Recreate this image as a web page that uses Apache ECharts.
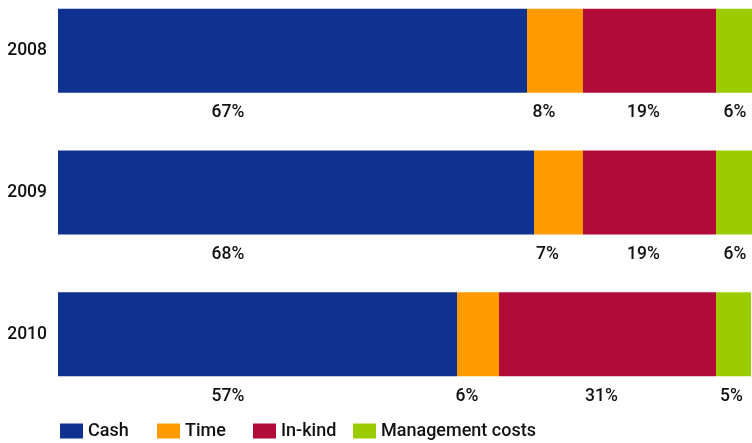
<!DOCTYPE html>
<html>
<head>
<meta charset="utf-8">
<script src="https://cdn.jsdelivr.net/npm/echarts@6/dist/echarts.min.js"></script>
<style>
  html, body { margin: 0; padding: 0; background: #ffffff; }
  #chart { width: 752px; height: 443px; }
</style>
</head>
<body>
<div id="chart"></div>
<script>
// Share of contributions by type, per year (percent)
const years = ['2008', '2009', '2010'];
const cash = [67, 68, 57];
const time = [8, 7, 6];
const inKind = [19, 19, 31];
const management = [6, 6, 5];

const seriesNames = ['Cash', 'Time', 'In-kind', 'Management costs'];
const seriesColors = ['#0f3290', '#ff9a00', '#b10b3a', '#9ccc00'];
const seriesValues = [cash, time, inKind, management];

const FONT = 'Roboto, "Noto Sans", sans-serif';

// Percentage label placement under each segment
const labelPlacement = [
  { position: [170, 95], align: 'center', verticalAlign: 'top' },
  { position: 'bottom', distance: 11, offset: [-11, 0] },
  { position: 'bottom', distance: 11, offset: [-6, 0] },
  { position: 'bottom', distance: 11, offset: [-2, 0] }
];

const series = seriesNames.map((name, i) => ({
  name: name,
  type: 'bar',
  stack: 'total',
  barWidth: 84,
  data: seriesValues[i],
  itemStyle: { color: seriesColors[i] },
  label: Object.assign({
    show: true,
    formatter: '{c}%',
    color: '#111111',
    fontFamily: FONT,
    fontSize: 17.5,
    fontWeight: 500
  }, labelPlacement[i]),
  emphasis: { disabled: true }
}));

const legendLefts = [60, 157, 253, 353];
const legends = seriesNames.map((name, i) => ({
  data: [name],
  left: legendLefts[i],
  top: 422,
  padding: 0,
  icon: 'rect',
  itemWidth: 23,
  itemHeight: 15,
  selectedMode: false,
  textStyle: { fontFamily: FONT, fontSize: 18, fontWeight: 500, color: '#111111' }
}));

const chart = echarts.init(document.getElementById('chart'), null, { renderer: 'canvas' });
chart.setOption({
  animation: false,
  backgroundColor: '#ffffff',
  grid: {
    left: 58,
    right: -6,
    top: -20,
    height: 425,
    containLabel: false,
    outerBoundsMode: 'none'
  },
  xAxis: {
    type: 'value',
    min: 0,
    max: 100,
    show: false
  },
  yAxis: {
    type: 'category',
    data: years,
    inverse: true,
    axisLine: { show: false },
    axisTick: { show: false },
    splitLine: { show: false },
    axisLabel: {
      margin: 11,
      color: '#111111',
      fontFamily: FONT,
      fontSize: 17.5,
      fontWeight: 500
    }
  },
  legend: legends,
  series: series
});
</script>
</body>
</html>
